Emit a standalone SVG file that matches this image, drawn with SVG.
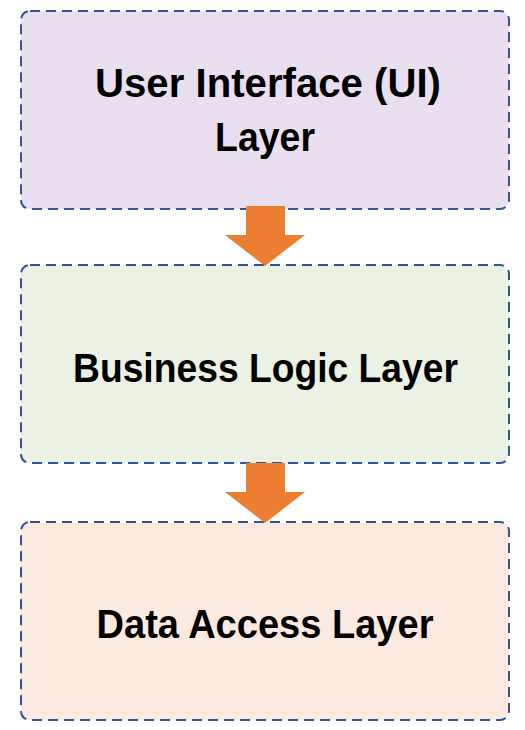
<svg xmlns="http://www.w3.org/2000/svg" width="525" height="730" viewBox="0 0 525 730">
<style>
.box{stroke:#2F5597;stroke-width:2;stroke-dasharray:10 6}
.lbl{font-family:"Liberation Sans",Arial,sans-serif;font-weight:bold;font-size:40px;fill:#000;text-anchor:middle}
.arr{fill:#ED7D31}
</style>
<rect x="0" y="0" width="525" height="730" fill="#FFFFFF"/>
<g id="ui-layer">
<rect class="box" x="21" y="11" width="488" height="198" rx="9" fill="#E9DFF1"/>
<text class="lbl" x="268" y="97" textLength="346" lengthAdjust="spacingAndGlyphs">User Interface (UI)</text>
<text class="lbl" x="265" y="151" textLength="100" lengthAdjust="spacingAndGlyphs">Layer</text>
</g>
<g id="business-layer">
<rect class="box" x="21" y="265" width="488" height="198" rx="9" fill="#EBF1E3"/>
<text class="lbl" x="265.5" y="381.5" textLength="385" lengthAdjust="spacingAndGlyphs">Business Logic Layer</text>
</g>
<g id="data-layer">
<rect class="box" x="21" y="522" width="488" height="198" rx="9" fill="#FCEAE0"/>
<text class="lbl" x="265" y="637.5" textLength="337" lengthAdjust="spacingAndGlyphs">Data Access Layer</text>
</g>
<g id="connectors">
<polygon class="arr" points="246,206 285,206 285,235 305,235 265,266 225,235 246,235"/>
<polygon class="arr" points="246,463 285,463 285,492 305,492 265,523 225,492 246,492"/>
</g>
</svg>
